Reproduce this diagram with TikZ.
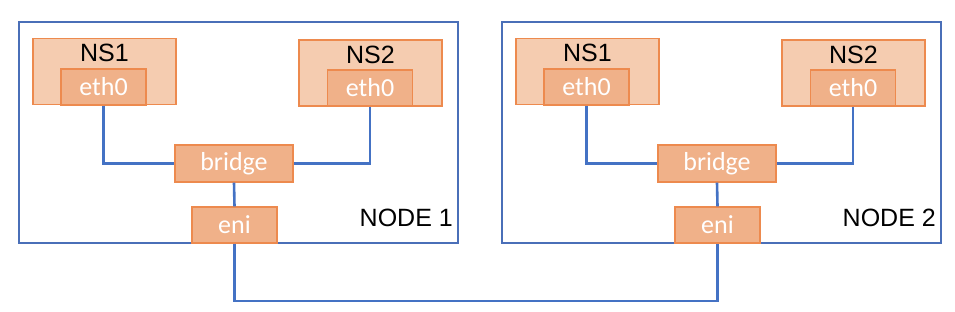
\documentclass[tikz,border=0pt]{standalone}
\usepackage{fontspec}
\setmainfont{Carlito}
\newfontfamily\arialfont{Liberation Sans}
\definecolor{frameblue}{HTML}{4A6FB8}
\definecolor{lineblue}{HTML}{4472C4}
\definecolor{nsfill}{HTML}{F5CCB0}
\definecolor{ethfill}{HTML}{F0B189}
\definecolor{obord}{HTML}{ED8A4E}
\tikzset{
  hostframe/.style={draw=frameblue, line width=1.2pt, fill=white, minimum width=439pt, minimum height=221pt, inner sep=0pt},
  nsbox/.style={draw=obord, line width=1.3pt, fill=nsfill, minimum width=143pt, minimum height=66pt, inner sep=0pt},
  ifbox/.style={draw=obord, line width=1.3pt, fill=ethfill, minimum width=85pt, minimum height=36pt, inner sep=0pt, text=white, font=\fontsize{26}{26}\selectfont},
  bigtext/.style={font=\arialfont\fontsize{25}{25}\selectfont, inner sep=0pt, text=black},
  conn/.style={draw=lineblue, line width=2.6pt}
}
\begin{document}
\begin{tikzpicture}[x=1pt,y=-1pt]
\useasboundingbox (0,0) rectangle (955,311);
\coordinate (bus) at (0,301);
\foreach \i/\dx in {1/0,2/483}{
  \begin{scope}[xshift=\dx]
    \node[hostframe] (n\i frame) at (238.5,132.5) {};
    \node[bigtext, anchor=east] (n\i label) at (453,218) {NODE \i};
    \node[nsbox] (n\i ns1) at (104.5,71.5) {};
    \node[bigtext] (n\i ns1t) at (104.5,53) {NS1};
    \node[ifbox] (n\i e1) at (103.5,87) {eth0};
    \node[nsbox] (n\i ns2) at (370.5,73) {};
    \node[bigtext] (n\i ns2t) at (370.5,55) {NS2};
    \node[ifbox] (n\i e2) at (370,88) {eth0};
    \node[ifbox, minimum width=118pt, minimum height=37pt] (n\i br) at (234,163.5) {bridge};
    \node[ifbox] (n\i eni) at (234.5,225) {eni};
    \draw[conn] (n\i e1.south) |- (n\i br.west);
    \draw[conn] (n\i e2.south) |- (n\i br.east);
    \draw[conn] (n\i br.south) -- (n\i eni.north);
  \end{scope}
}
\draw[conn] (n1eni.south) -- (n1eni.south |- bus) -| (n2eni.south);
\end{tikzpicture}
\end{document}
